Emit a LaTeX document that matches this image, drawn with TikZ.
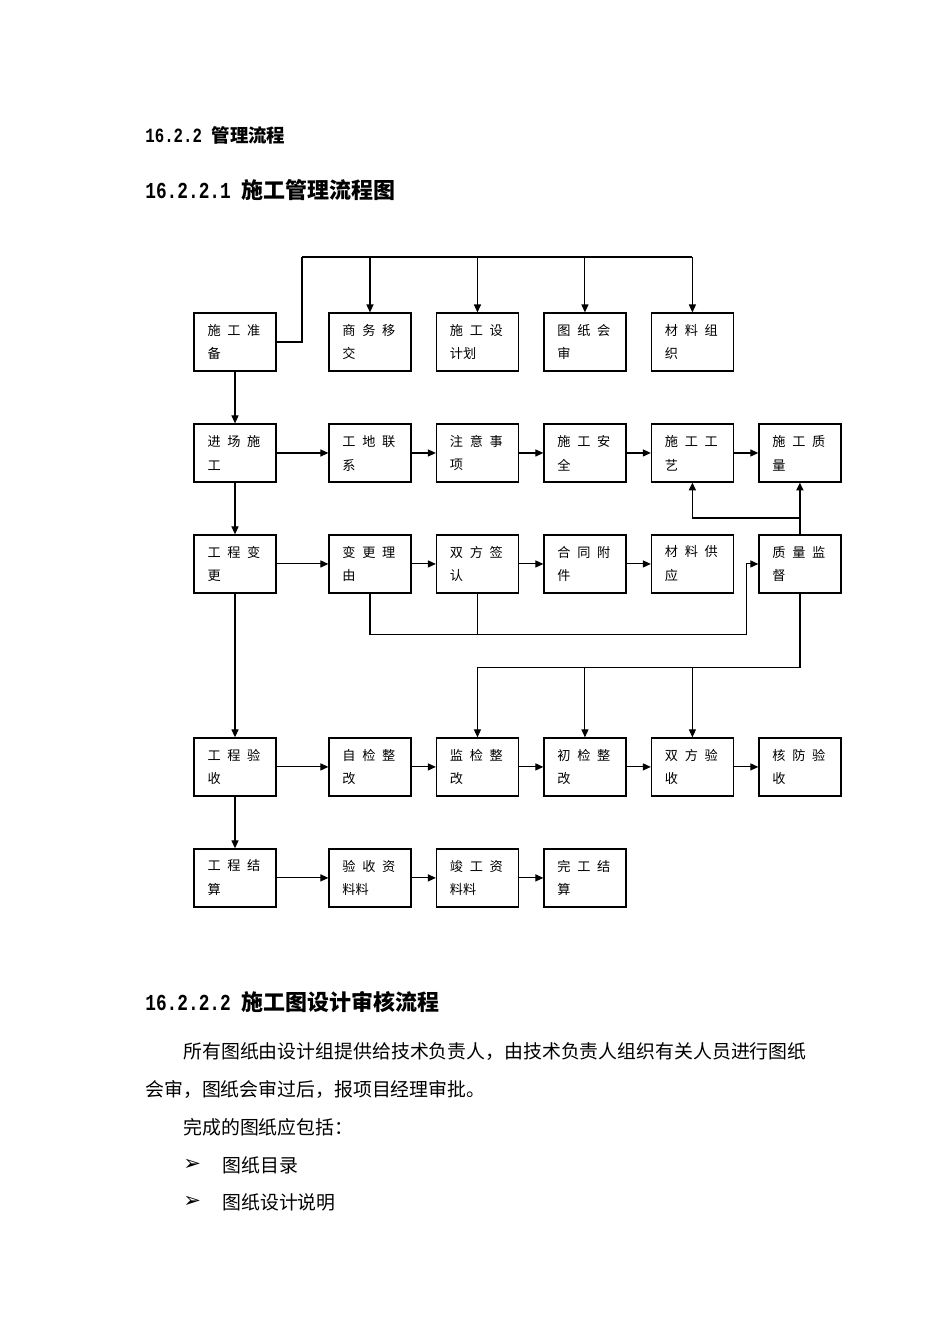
\documentclass[tikz,border=0pt]{standalone}
\usepackage{fontspec}
\usetikzlibrary{positioning, arrows.meta}
\newfontfamily\cjk{Noto Sans CJK SC}
\newfontfamily\numfont[FakeStretch=0.78]{Liberation Mono}
\newfontfamily\symfont{DejaVu Sans}
\newcommand{\kg}{\hspace{3.8pt}}

\begin{document}
\begin{tikzpicture}[x=0.02cm, y=-0.02cm, node distance=2.22cm and 2.15cm, on grid,
    box/.style={draw, line width=0.7pt, minimum width=1.64cm, minimum height=1.16cm, inner xsep=0.27cm, text width=1.1cm, align=left, font=\cjk\fontsize{7.5}{13.6}\selectfont},
    link/.style={line width=0.6pt},
    arr/.style={-{Triangle[length=4.5pt, width=4pt]}},
    txt/.style={anchor=west, inner sep=0pt}]
  \useasboundingbox (0,0) rectangle (950,1344);

  \node[txt, font=\cjk\bfseries\fontsize{10.5}{12}\selectfont] (head) at (145,135) {{\numfont\fontsize{11.5}{12}\selectfont 16.2.2 }管理流程};
  \node[txt, font=\cjk\bfseries\fontsize{12.5}{14}\selectfont] (chart) at (145,190) {{\numfont\fontsize{13}{14}\selectfont 16.2.2.1 }施工管理流程图};

  \node[box] (zhunbei) at (235,342) {施\kg 工\kg 准\\备};
  \node[box, right=of zhunbei, xshift=0.55cm] (shangwu) {商\kg 务\kg 移\\交};
  \node[box, right=of shangwu] (sheji) {施\kg 工\kg 设\\计划};
  \node[box, right=of sheji] (huishen) {图\kg 纸\kg 会\\审};
  \node[box, right=of huishen] (zuzhi) {材\kg 料\kg 组\\织};

  \node[box, below=of zhunbei] (jinchang) {进\kg 场\kg 施\\工};
  \node[box, right=of jinchang, xshift=0.55cm] (lianxi) {工\kg 地\kg 联\\系};
  \node[box, right=of lianxi] (zhuyi) {注\kg 意\kg 事\\项};
  \node[box, right=of zhuyi] (anquan) {施\kg 工\kg 安\\全};
  \node[box, right=of anquan] (gongyi) {施\kg 工\kg 工\\艺};
  \node[box, right=of gongyi] (zhiliang) {施\kg 工\kg 质\\量};

  \node[box, below=of jinchang] (biangeng) {工\kg 程\kg 变\\更};
  \node[box, right=of biangeng, xshift=0.55cm] (liyou) {变\kg 更\kg 理\\由};
  \node[box, right=of liyou] (qianren) {双\kg 方\kg 签\\认};
  \node[box, right=of qianren] (fujian) {合\kg 同\kg 附\\件};
  \node[box, right=of fujian] (gongying) {材\kg 料\kg 供\\应};
  \node[box, right=of gongying] (jiandu) {质\kg 量\kg 监\\督};

  \node[box, below=of biangeng, yshift=-1.84cm] (yanshou) {工\kg 程\kg 验\\收};
  \node[box, right=of yanshou, xshift=0.55cm] (zijian) {自\kg 检\kg 整\\改};
  \node[box, right=of zijian] (jianjian) {监\kg 检\kg 整\\改};
  \node[box, right=of jianjian] (chujian) {初\kg 检\kg 整\\改};
  \node[box, right=of chujian] (shuangfang) {双\kg 方\kg 验\\收};
  \node[box, right=of shuangfang] (xiaofang) {核\kg 防\kg 验\\收};

  \node[box, below=of yanshou] (jiesuan) {工\kg 程\kg 结\\算};
  \node[box, right=of jiesuan, xshift=0.55cm] (ziliao) {验\kg 收\kg 资\\料料};
  \node[box, right=of ziliao] (jungong) {竣\kg 工\kg 资\\料料};
  \node[box, right=of jungong] (wangong) {完\kg 工\kg 结\\算};

  \coordinate (bend) at (302,257);
  \draw[link, line width=1.4pt] (zhunbei.east) -| (bend);
  \draw[link] (bend) -- (zuzhi.north |- bend);
  \foreach \n in {shangwu, sheji, huishen, zuzhi}
    \draw[link, arr] (\n.north |- bend) -- (\n.north);

  \draw[link, arr] (zhunbei) -- (jinchang);
  \draw[link, arr] (jinchang) -- (biangeng);
  \draw[link, arr] (biangeng) -- (yanshou);
  \draw[link, arr] (yanshou) -- (jiesuan);

  \foreach \a/\b in {jinchang/lianxi, lianxi/zhuyi, zhuyi/anquan, anquan/gongyi, gongyi/zhiliang,
      biangeng/liyou, liyou/qianren, qianren/fujian, fujian/gongying,
      yanshou/zijian, zijian/jianjian, jianjian/chujian, chujian/shuangfang, shuangfang/xiaofang,
      jiesuan/ziliao, ziliao/jungong, jungong/wangong}
    \draw[link, arr] (\a) -- (\b);

  \draw[link, line width=1pt, arr] (jiandu) -- (zhiliang);
  \path (jiandu.north) ++(0,-16) coordinate (split);
  \draw[link, line width=1pt, arr] (split) -| (gongyi.south);

  \path (liyou.south) ++(0,41) coordinate (loop);
  \path (jiandu.west) ++(-12,0) coordinate (entry);
  \draw[link, arr] (liyou.south) |- (loop -| entry) -- (entry) -- (jiandu.west);
  \draw[link] (qianren.south) -- (qianren.south |- loop);

  \path (jiandu.south) ++(0,74) coordinate (rail);
  \draw[link, line width=1pt] (jiandu.south) -- (rail) -- (jianjian.north |- rail);
  \foreach \n in {jianjian, chujian, shuangfang}
    \draw[link, arr] (\n.north |- rail) -- (\n.north);

  \node[txt, font=\cjk\bfseries\fontsize{12.5}{14}\selectfont] (review) at (145,1002) {{\numfont\fontsize{13}{14}\selectfont 16.2.2.2 }施工图设计审核流程};
  \node[txt, font=\cjk\fontsize{10.75}{13}\selectfont] (para1) at (183,1052) {所有图纸由设计组提供给技术负责人，由技术负责人组织有关人员进行图纸};
  \node[txt, font=\cjk\fontsize{10.75}{13}\selectfont] (para2) at (145,1089) {会审，图纸会审过后，报项目经理审批。};
  \node[txt, font=\cjk\fontsize{10.75}{13}\selectfont] (para3) at (183,1127) {完成的图纸应包括：};
  \node[txt, font=\symfont\fontsize{12}{12}\selectfont] (dot1) at (183,1165) {➢};
  \node[txt, font=\cjk\fontsize{10.75}{13}\selectfont] (item1) at (222,1165) {图纸目录};
  \node[txt, font=\symfont\fontsize{12}{12}\selectfont] (dot2) at (183,1202) {➢};
  \node[txt, font=\cjk\fontsize{10.75}{13}\selectfont] (item2) at (222,1202) {图纸设计说明};
\end{tikzpicture}
\end{document}
